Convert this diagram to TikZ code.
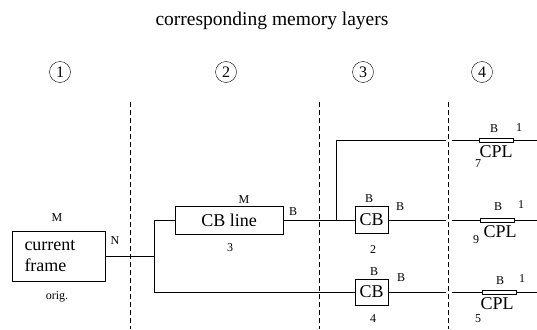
\documentclass[tikz,border=0pt]{standalone}
\usepackage{fontspec}
\setmainfont{Liberation Serif}
\usetikzlibrary{arrows.meta}

\begin{document}
\begin{tikzpicture}[x=1pt,y=-1pt]
\useasboundingbox (0,0) rectangle (537,329);
\node (title) at (272,21) {\fontsize{19.5}{22}\selectfont corresponding memory layers};
\begin{scope}[every node/.style={circle,draw,inner sep=0pt,minimum size=21pt,
                                 font=\fontsize{16}{18}\selectfont}]
    \node (n1) at (60,72) {1};
    \node (n2) at (226,72) {2};
    \node (n3) at (363,72) {3};
    \node (n4) at (482,72) {4};
\end{scope}
\begin{scope}[every node/.style={draw,line width=0.9pt,inner sep=0pt,
                                 font=\fontsize{18}{21}\selectfont}]
    \node [minimum width=93pt,minimum height=50pt,text width=68pt,align=left] (frame) at (58.5,256) {current\\frame};
    \node [minimum width=108pt,minimum height=28pt] (cbline) at (229,220) {CB line};
    \node [minimum width=33pt,minimum height=27pt] (cb2) at (371.5,220) {CB};
    \node [minimum width=33pt,minimum height=26pt] (cb4) at (371.5,292) {CB};
    \node [minimum width=34pt,minimum height=4pt] (cpl7) at (496,140) {};
    \node [minimum width=34pt,minimum height=4pt] (cpl9) at (497,220) {};
    \node [minimum width=34pt,minimum height=4pt] (cpl5) at (499,292) {};
\end{scope}
\begin{scope}[every node/.style={inner sep=0pt,font=\fontsize{18}{20}\selectfont}]
    \node (cpl7t) at (496,152) {CPL};
    \node (cpl9t) at (500,232) {CPL};
    \node (cpl5t) at (497,304) {CPL};
\end{scope}
\begin{scope}[every node/.style={inner sep=0pt,font=\fontsize{12}{14}\selectfont}]
    \node (frameM) at (57,218) {M};
    \node (frameN) at (115,241) {N};
    \node (orig) at (57,297) {orig.};
    \node (cblineM) at (244,200) {M};
    \node (cblineB) at (293,212) {B};
    \node (l3) at (230,248) {3};
    \node (cb2B) at (369,199) {B};
    \node (cb2Bb) at (400,207) {B};
    \node (l2) at (373,250) {2};
    \node (cb4B) at (374,272) {B};
    \node (cb4Bb) at (401,278) {B};
    \node (l4) at (373,319) {4};
    \node (cpl7B) at (494,129) {B};
    \node (cpl7one) at (519,128) {1};
    \node (l7) at (478,164) {7};
    \node (cpl9B) at (498,207) {B};
    \node (cpl9one) at (521,205) {1};
    \node (l9) at (476,240) {9};
    \node (cpl5B) at (500,281) {B};
    \node (cpl5one) at (522,279) {1};
    \node (l5) at (478,319) {5};
\end{scope}
% junctions and line ends
\coordinate (j1) at (154,256);
\coordinate (j1b) at (154,292);
\coordinate (j2) at (336,220);
\coordinate (g7a) at (446,140);
\coordinate (g7b) at (452,140);
\coordinate (g9a) at (446,220);
\coordinate (g9b) at (452,220);
\coordinate (g5a) at (446,292);
\coordinate (g5b) at (452,292);
\coordinate (e7) at (537,140);
\coordinate (e9) at (537,220);
\coordinate (e5) at (537,292);
\coordinate (d1t) at (130,102);
\coordinate (d1b) at (130,329);
\coordinate (d2t) at (319,102);
\coordinate (d2b) at (319,329);
\coordinate (d3t) at (448,102);
\coordinate (d3b) at (448,329);
\begin{scope}[wire_edge/.style={draw=black,line width=0.9pt},
              dash_edge/.style={draw=black,line width=0.8pt,dash pattern=on 5pt off 3pt}]
    \path (d1t) edge [dash_edge] (d1b);
    \path (d2t) edge [dash_edge] (d2b);
    \path (d3t) edge [dash_edge] (d3b);
    \path (frame) edge [wire_edge] (j1);
    \draw [wire_edge] (cbline.west) -| (j1b) -- (cb4.west);
    \path (cbline) edge [wire_edge] (cb2);
    \draw [wire_edge] (j2) |- (g7a);
    \path (cb2) edge [wire_edge] (g9a);
    \path (cb4) edge [wire_edge] (g5a);
    \path (g7b) edge [wire_edge] (cpl7);
    \path (g9b) edge [wire_edge] (cpl9);
    \path (g5b) edge [wire_edge] (cpl5);
    \path (cpl7) edge [wire_edge] (e7);
    \path (cpl9) edge [wire_edge] (e9);
    \path (cpl5) edge [wire_edge] (e5);
\end{scope}
\end{tikzpicture}
\end{document}
